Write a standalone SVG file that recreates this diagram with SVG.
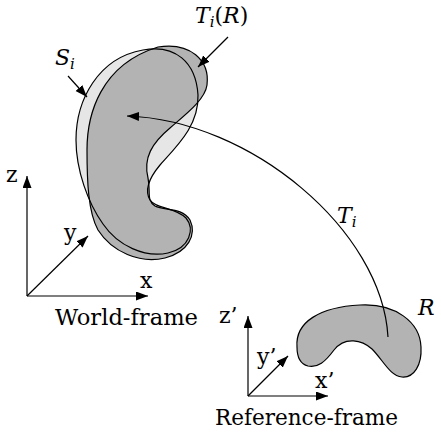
<svg xmlns="http://www.w3.org/2000/svg" xmlns:xlink="http://www.w3.org/1999/xlink" width="441" height="434" viewBox="0 0 441 434">
<style>
.ln{fill:none;stroke:#000;stroke-width:1.2}
.ar{fill:none;stroke:#000;stroke-width:1.2;marker-end:url(#ah)}
text{font-family:"DejaVu Serif",serif;fill:#000}
.t{font-size:22px}
.m{font-size:22px;font-style:italic}
.s{font-size:15px}
.dark{fill:#b3b3b3}
.light{fill:#e6e6e6}
</style>
<defs>
<marker id="ah" markerUnits="userSpaceOnUse" markerWidth="13" markerHeight="10" refX="12" refY="4.5" orient="auto">
<path d="M0,0 L12,4.5 L0,9 Z" fill="#000"/>
</marker>
<path id="pS" d="M143,50 C175,44 196,62 198,95 C199,125 178,145 160,165 C150,177 144,190 150,200 C156,209 175,207 186,218 C195,229 190,248 168,253 C145,258 118,246 103,224 C88,203 76,170 76,140 C76,100 98,58 143,50 Z"/>
<path id="pT" d="M158,47 C190,42 210,60 207,85 C205,100 185,115 170,128 C152,143 143,158 148,178 C151,192 146,200 155,206 C165,211 182,207 190,220 C197,235 188,252 165,258 C140,264 112,252 98,230 C88,212 87,180 87,150 C87,115 100,65 158,47 Z"/>
</defs>

<g id="node-Si-Ti">
<use xlink:href="#pS" class="light"/>
<use xlink:href="#pT" class="dark"/>
<use xlink:href="#pS" class="ln"/>
<use xlink:href="#pT" class="ln"/>
</g>

<g id="node-R">
<path class="dark" stroke="#000" stroke-width="1.2" d="M297,347 C295,322 320,307 360,305 C395,303 420,322 421,347 C422,365 414,378 402,377 C390,376 383,360 372,349 C362,340 345,336 334,350 C325,362 318,368 308,366 C300,364 297,356 297,347 Z"/>
<text class="m" x="418" y="315">R</text>
</g>

<g id="world-frame">
<line class="ar" x1="27" y1="296" x2="27" y2="176"/>
<line class="ar" x1="27" y1="296" x2="148" y2="296"/>
<line class="ar" x1="27" y1="296" x2="88" y2="236"/>
<text class="t" x="6" y="182">z</text>
<text class="t" x="64" y="240">y</text>
<text class="t" x="140" y="288">x</text>
<text class="t" x="55" y="325" textLength="143" lengthAdjust="spacingAndGlyphs">World-frame</text>
</g>

<g id="reference-frame">
<line class="ar" x1="248" y1="396" x2="248" y2="316"/>
<line class="ar" x1="248" y1="396" x2="328" y2="396"/>
<line class="ar" x1="248" y1="396" x2="288" y2="356"/>
<text class="t" x="219" y="323">z’</text>
<text class="t" x="257" y="364">y’</text>
<text class="t" x="315" y="388">x’</text>
<text class="t" x="215" y="425" textLength="183" lengthAdjust="spacingAndGlyphs">Reference-frame</text>
</g>

<g id="labels">
<text class="m" x="55" y="65">S<tspan class="s" dy="4">i</tspan></text>
<text class="m" x="195" y="23">T<tspan class="s" dy="4">i</tspan><tspan dy="-4" font-style="normal">(</tspan>R<tspan font-style="normal">)</tspan></text>
<text class="m" x="337" y="223">T<tspan class="s" dy="4">i</tspan></text>
</g>

<g id="connectors">
<path class="ar" d="M388,337 C382,230 250,120 127,116"/>
<line class="ar" x1="68" y1="76" x2="87" y2="97"/>
<line class="ar" x1="228" y1="37" x2="198" y2="67"/>
</g>
</svg>
